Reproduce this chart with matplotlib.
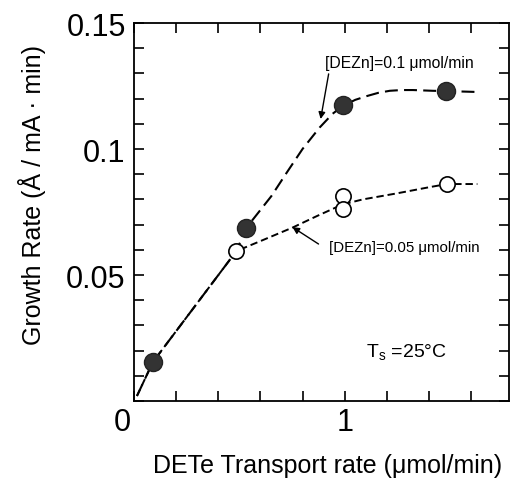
import numpy as np
import matplotlib
matplotlib.use("Agg")
import matplotlib.pyplot as plt
import matplotlib.transforms as mtransforms
from matplotlib.ticker import MultipleLocator

plt.rcParams['font.family'] = ['Liberation Sans', 'DejaVu Sans']
plt.rcParams['mathtext.fontset'] = 'custom'
plt.rcParams['mathtext.rm'] = 'Liberation Sans'

# measured points
dete_filled = [0.09, 0.533, 0.99, 1.48]
rate_filled = [0.0155, 0.0687, 0.1175, 0.123]   # [DEZn]=0.1
dete_open = [0.486, 0.99, 0.99, 1.486]
rate_open = [0.0595, 0.0813, 0.0762, 0.0861]    # [DEZn]=0.05

# hand-drawn guide curves
curve_hi_x = [0.014, 0.09, 0.486, 0.533, 0.652, 0.724, 0.80, 0.881, 0.943, 0.99,
              1.05, 1.105, 1.16, 1.214, 1.27, 1.324, 1.419, 1.48, 1.643]
curve_hi_y = [0.002, 0.0155, 0.0595, 0.0687, 0.0813, 0.0905, 0.100, 0.1085, 0.1140, 0.117,
              0.1195, 0.121, 0.1223, 0.1231, 0.1234, 0.1234, 0.1231, 0.123, 0.1226]
curve_lo_x = [0.014, 0.09, 0.486, 0.61, 0.752, 0.871, 0.99, 1.086, 1.248, 1.405, 1.486, 1.63]
curve_lo_y = [0.002, 0.0155, 0.0595, 0.0638, 0.0688, 0.0735, 0.0780, 0.0800, 0.0824, 0.0849,
              0.0861, 0.0861]

fig = plt.figure(figsize=(5.12, 4.85), dpi=100)
ax = fig.add_axes([0.2617, 0.1711, 0.7324, 0.7794])

ax.plot(curve_hi_x, curve_hi_y, color='black', lw=1.5, dashes=(6.2, 3.0), zorder=2)
ax.plot(curve_lo_x, curve_lo_y, color='black', lw=1.4, dashes=(3.8, 2.0), zorder=2)

ax.plot(dete_filled, rate_filled, 'o', ms=13, mfc='#333333', mec='#222222', mew=1, zorder=3)
ax.plot(dete_open, rate_open, 'o', ms=11, mfc='white', mec='black', mew=1.2, zorder=3)

ax.set_xlim(0, 1.78)
ax.set_ylim(0, 0.15)

ax.xaxis.set_major_locator(MultipleLocator(0.2))
ax.xaxis.set_major_formatter(plt.FuncFormatter(
    lambda v, p: str(int(round(v))) if abs(v - round(v)) < 1e-6 else ''))
ax.yaxis.set_major_locator(MultipleLocator(0.01))
ax.yaxis.set_major_formatter(plt.FuncFormatter(
    lambda v, p: {0.05: '0.05', 0.1: '0.1', 0.15: '0.15'}.get(round(v, 3), '')))

ax.tick_params(which='both', direction='in', top=True, right=True,
               length=7, width=1.2, labelsize=22)
ax.tick_params(axis='y', pad=6)
ax.tick_params(axis='x', pad=4)
for s in ax.spines.values():
    s.set_linewidth(1.3)

# shift the corner "0" a little to the left
fig.canvas.draw()
for lbl in ax.get_xticklabels():
    if lbl.get_text() == '0':
        lbl.set_transform(lbl.get_transform() +
                          mtransforms.ScaledTranslation(-0.12, 0, fig.dpi_scale_trans))

ax.set_xlabel('DETe Transport rate (\u03bcmol/min)', fontsize=18)
ax.xaxis.set_label_coords(0.517, -0.138)
ax.set_ylabel('Growth Rate (\u00c5 / mA \u00b7 min)', fontsize=18)
ax.yaxis.set_label_coords(-0.235, 0.548)

arrow = dict(arrowstyle='-|>', color='black', lw=1.0, mutation_scale=10, shrinkA=0, shrinkB=0)
ax.text(0.905, 0.1345, '[DEZn]=0.1 \u03bcmol/min', fontsize=11.3, va='center', ha='left')
ax.annotate('', xy=(0.886, 0.1119), xytext=(0.924, 0.1298), arrowprops=arrow)
ax.text(0.924, 0.0611, '[DEZn]=0.05 \u03bcmol/min', fontsize=10.8, va='center', ha='left')
ax.annotate('', xy=(0.752, 0.069), xytext=(0.876, 0.0623), arrowprops=arrow)

ax.text(1.1, 0.0194, 'T$_\\mathregular{s}$ =25\u00b0C', fontsize=14, va='center', ha='left')

fig.savefig('out.png', dpi=100)
